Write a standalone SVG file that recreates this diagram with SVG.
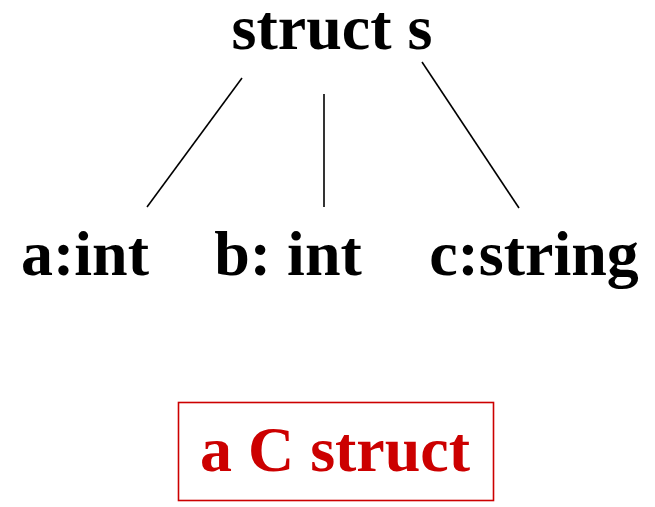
<svg xmlns="http://www.w3.org/2000/svg" width="655" height="507" viewBox="0 0 655 507">
<style>
text{font-family:"Liberation Serif","Times New Roman",serif;font-weight:bold;font-size:64px;text-anchor:middle;fill:#000}
.edge{stroke:#000;stroke-width:1.6;fill:none}
.red{fill:#cc0000}
</style>
<rect width="655" height="507" fill="#fff"/>
<g id="root"><text x="332" y="49">struct s</text></g>
<g id="a"><text x="85" y="275">a:int</text></g>
<g id="b"><text x="288" y="275">b: int</text></g>
<g id="c"><text x="534" y="275">c:string</text></g>
<g id="connectors">
<line class="edge" x1="242" y1="78" x2="147" y2="207"/>
<line class="edge" x1="324" y1="94" x2="324" y2="207"/>
<line class="edge" x1="422" y1="62" x2="519" y2="208"/>
</g>
<g id="caption">
<rect x="178.5" y="402.5" width="315" height="98" fill="none" stroke="#cc0000" stroke-width="1.6"/>
<text class="red" x="335" y="471">a C struct</text>
</g>
</svg>
